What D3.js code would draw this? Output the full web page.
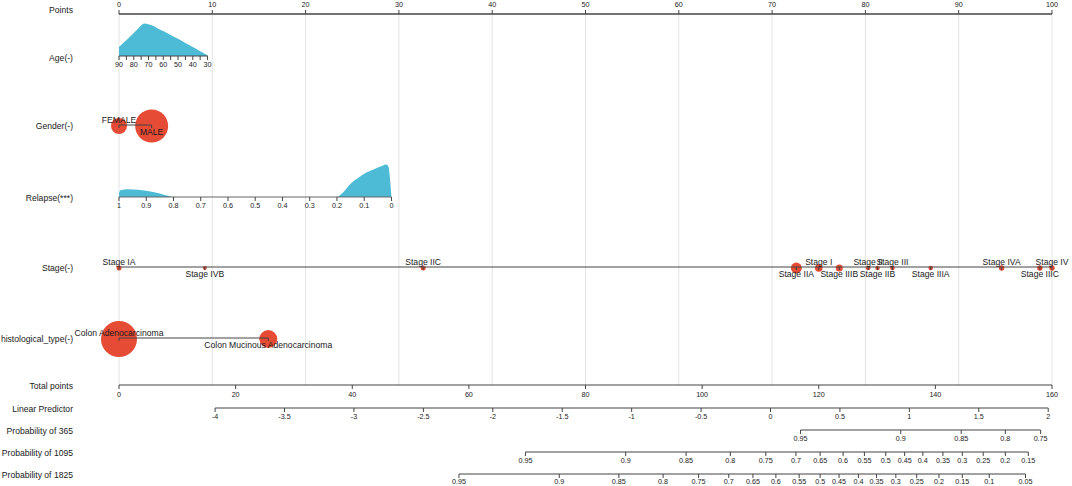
<!DOCTYPE html>
<html><head><meta charset="utf-8">
<script src="https://cdn.jsdelivr.net/npm/d3@7"></script>
<style>body{margin:0;background:#fff;} svg{display:block;font-family:"Liberation Sans",Arial,Helvetica,sans-serif;}</style>
</head><body><svg id="c" width="1072" height="486"></svg>
<script>
// ---------------- data ----------------
const rowLabels = ["Points","Age(-)","Gender(-)","Relapse(***)","Stage(-)","histological_type(-)",
  "Total points","Linear Predictor","Probability of 365","Probability of 1095","Probability of 1825"];
const pointTicks = [0,10,20,30,40,50,60,70,80,90,100];

const ageTicks = [90,85,80,75,70,65,60,55,50,45,40,35,30];
const ageTickLabels = [90,80,70,60,50,40,30];
const ageRange = [90,30];
const agePointsRange = [0,9.49];
const ageDensityX = [90,86,82,78,75,73,70,67,64,60,55,50,45,40,35,30];
const ageDensityY = [0.28,0.45,0.62,0.80,0.94,1.0,0.98,0.93,0.86,0.77,0.65,0.53,0.40,0.28,0.15,0.02];

const genderLevels = ["FEMALE","MALE"];
const genderPoints = [0,3.5];
const genderFreq = [64,272];

const relapseTicks = [1,0.9,0.8,0.7,0.6,0.5,0.4,0.3,0.2,0.1,0];
const relapseRange = [1,0];
const relapsePointsRange = [0,29.2];
const relapseDensityX = [1.0,0.995,0.97,0.93,0.9,0.85,0.82,0.8,0.2,0.18,0.15,0.12,0.1,0.07,0.05,0.03,0.02,0.012,0];
const relapseDensityY = [0.12,0.21,0.24,0.22,0.19,0.11,0.04,0,0,0.12,0.41,0.60,0.72,0.83,0.91,0.97,1.0,0.96,0];

const stageLevels = ["Stage IA","Stage IVB","Stage IIC","Stage IIA","Stage I","Stage IIIB","Stage II","Stage IIB","Stage III","Stage IIIA","Stage IVA","Stage IIIC","Stage IV"];
const stagePoints = [0,9.2,32.6,72.6,75.0,77.2,80.3,81.3,82.9,87.0,94.6,98.7,100];
const stageFreq = [6.3,4,6.3,30,14.4,12.3,5.3,5.3,5.3,5.3,7.3,7.3,7.3];

const histLevels = ["Colon Adenocarcinoma","Colon Mucinous Adenocarcinoma"];
const histPoints = [0,16.0];
const histFreq = [324,81];

const totalTicks = [0,20,40,60,80,100,120,140,160];
const lpTicks = [-4,-3.5,-3,-2.5,-2,-1.5,-1,-0.5,0,0.5,1,1.5,2];
const lpRange = [-4,2];
const lpTotalRange = [16.48,159.35];

const p365Labels = ["0.95","0.9","0.85","0.8","0.75"];
const p365Total = [116.88,134.06,144.43,152.0,158.05];
const p1095Labels = ["0.95","0.9","0.85","0.8","0.75","0.7","0.65","0.6","0.55","0.5","0.45","0.4","0.35","0.3","0.25","0.2","0.15"];
const p1095Total = [69.70,86.89,97.25,104.84,110.92,116.09,120.24,124.18,127.83,131.49,134.73,137.85,141.29,144.62,148.2,152.0,155.94];
const p1825Labels = ["0.95","0.9","0.85","0.8","0.75","0.7","0.65","0.6","0.55","0.5","0.45","0.4","0.35","0.3","0.25","0.2","0.15","0.1","0.05"];
const p1825Total = [58.3,75.5,85.72,93.31,99.39,104.57,108.71,112.65,116.64,120.24,123.48,126.8,129.9,133.22,136.8,140.61,144.62,149.24,155.46];

// ---------------- layout ----------------
const L = {x0:119, x1:1052, labelX:73,
  rowY:[14,56,125,197,267,338,385,408,430,452,474],
  labelY:[11,58.5,127,199,268.5,339.5,387,409.5,431.5,453.5,476]};
const blue = "#4DBBD5", red = "#E64B35", axisCol = "#444", gridCol = "#e4e4e4", txt = "#1a1a1a";
const fsLab = 8.6, fsTick = 7.2;

const svg = d3.select("#c");
const xPts = d3.scaleLinear([0,100],[L.x0,L.x1]);
const xTot = d3.scaleLinear([0,160],[L.x0,L.x1]);
const hDen = d3.scaleLinear([0,1],[0,32.4]);
const rScale = d3.scaleSqrt([0,324],[0,18]);

const gGrid = svg.append("g"), gMarks = svg.append("g"), gAxes = svg.append("g"), gText = svg.append("g");

// gridlines
gGrid.selectAll("line").data(pointTicks).join("line")
  .attr("x1",d=>xPts(d)).attr("x2",d=>xPts(d)).attr("y1",L.rowY[0]).attr("y2",L.rowY[6])
  .attr("stroke",gridCol).attr("stroke-width",1);

// row labels
gText.selectAll("text.row").data(rowLabels).join("text").attr("class","row")
  .attr("x",L.labelX).attr("y",(d,i)=>L.labelY[i]).attr("text-anchor","end")
  .attr("dominant-baseline","middle").attr("font-size",fsLab).attr("fill",txt).text(d=>d);

// generic axis helper: positions array, labels array, y, tick dir
function axisLine(xs, y, dir, labels, labelDy, width){
  gAxes.append("line").attr("x1",d3.min(xs)).attr("x2",d3.max(xs)).attr("y1",y).attr("y2",y)
    .attr("stroke",axisCol).attr("stroke-width",width||1);
  gAxes.selectAll(null).data(xs).join("line")
    .attr("x1",d=>d).attr("x2",d=>d).attr("y1",y).attr("y2",y+dir*4)
    .attr("stroke",axisCol).attr("stroke-width",1);
  if(labels){
    gText.selectAll(null).data(labels).join("text")
      .attr("x",(d,i)=>labels.xs? labels.xs[i] : xs[i]).attr("y",y+labelDy)
      .attr("text-anchor","middle").attr("dominant-baseline","middle")
      .attr("font-size",fsTick).attr("fill",txt).text(d=>d);
  }
}

// Points axis
axisLine(pointTicks.map(xPts), L.rowY[0], -1, pointTicks, -9.3, 1.3);

// Age
const agePts = d3.scaleLinear(ageRange, agePointsRange);
const ageX = v => xPts(agePts(v));
const ageY = L.rowY[1];
gMarks.append("path").datum(ageDensityX.map((a,i)=>[a,ageDensityY[i]]))
  .attr("d", d3.area().x(d=>ageX(d[0])).y0(ageY).y1(d=>ageY-hDen(d[1])).curve(d3.curveMonotoneX))
  .attr("fill",blue);
gAxes.append("line").attr("x1",ageX(90)).attr("x2",ageX(30)).attr("y1",ageY).attr("y2",ageY).attr("stroke",axisCol);
gAxes.selectAll(null).data(ageTicks).join("line").attr("x1",ageX).attr("x2",ageX)
  .attr("y1",ageY).attr("y2",ageY+4).attr("stroke",axisCol);
gText.selectAll(null).data(ageTickLabels).join("text").attr("x",ageX).attr("y",ageY+9)
  .attr("text-anchor","middle").attr("dominant-baseline","middle").attr("font-size",fsTick).attr("fill",txt).text(d=>d);

// categorical helper
function catAxis(levels, pts, freq, y, above, below){
  const xs = pts.map(xPts);
  gMarks.selectAll(null).data(levels).join("circle")
    .attr("cx",(d,i)=>xs[i]).attr("cy",y+1).attr("r",(d,i)=>rScale(freq[i])).attr("fill",red);
  gAxes.append("line").attr("x1",d3.min(xs)).attr("x2",d3.max(xs)).attr("y1",y).attr("y2",y).attr("stroke",axisCol);
  gAxes.selectAll(null).data(xs).join("line").attr("x1",d=>d).attr("x2",d=>d)
    .attr("y1",y).attr("y2",y+3).attr("stroke",axisCol);
  gText.selectAll(null).data(levels).join("text")
    .attr("x",(d,i)=>xs[i]).attr("y",(d,i)=> i%2===0 ? y+above : y+below)
    .attr("text-anchor","middle").attr("dominant-baseline","middle")
    .attr("font-size",fsLab).attr("fill",txt).text(d=>d);
}
catAxis(genderLevels, genderPoints, genderFreq, L.rowY[2], -4, 8);

// Relapse
const relPts = d3.scaleLinear(relapseRange, relapsePointsRange);
const relX = v => xPts(relPts(v));
const relY = L.rowY[3];
gMarks.append("path").datum(relapseDensityX.map((a,i)=>[a,relapseDensityY[i]]))
  .attr("d", d3.area().x(d=>relX(d[0])).y0(relY).y1(d=>relY-hDen(d[1])).curve(d3.curveMonotoneX))
  .attr("fill",blue);
gAxes.append("line").attr("x1",relX(1)).attr("x2",relX(0)).attr("y1",relY).attr("y2",relY).attr("stroke","#666").attr("stroke-width",1.2);
gAxes.selectAll(null).data(relapseTicks).join("line").attr("x1",relX).attr("x2",relX)
  .attr("y1",relY).attr("y2",relY+4).attr("stroke",axisCol);
gText.selectAll(null).data(relapseTicks).join("text").attr("x",relX).attr("y",relY+9.5)
  .attr("text-anchor","middle").attr("dominant-baseline","middle").attr("font-size",fsTick).attr("fill",txt).text(d=>d);

// Stage
catAxis(stageLevels, stagePoints, stageFreq, L.rowY[4], -4.6, 8);
// Histological type
catAxis(histLevels, histPoints, histFreq, L.rowY[5], -4.3, 8);

// Total points
axisLine(totalTicks.map(xTot), L.rowY[6], 1, totalTicks, 9.8, 1.2);
// Linear predictor
const lpToTot = d3.scaleLinear(lpRange, lpTotalRange);
axisLine(lpTicks.map(v=>xTot(lpToTot(v))), L.rowY[7], 1, lpTicks, 9.5, 1.2);
// Probabilities
axisLine(p365Total.map(xTot), L.rowY[8], 1, p365Labels, 9, 1.2);
axisLine(p1095Total.map(xTot), L.rowY[9], 1, p1095Labels, 9.5, 1.2);
axisLine(p1825Total.map(xTot), L.rowY[10], 1, p1825Labels, 8.5, 1.2);
</script></body></html>
